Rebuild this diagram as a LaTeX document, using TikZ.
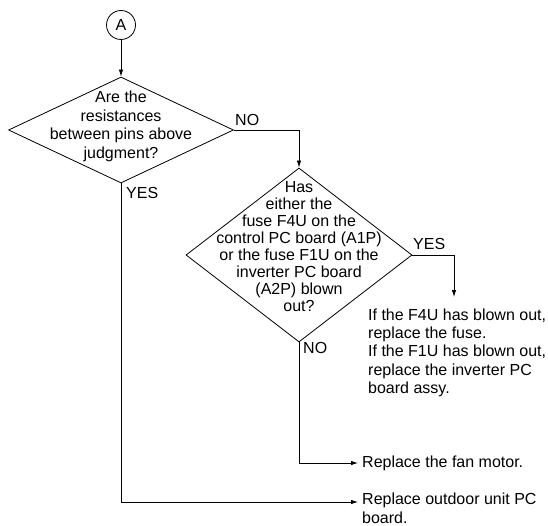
\documentclass[tikz,border=0pt]{standalone}
\usepackage{fontspec}
\setmainfont{Liberation Sans}
\usetikzlibrary{arrows.meta,positioning,shapes.geometric}
\tikzset{
  connector/.style={circle,draw,line width=0.8pt,minimum size=29pt,inner sep=0pt,
    font=\fontsize{16}{18}\selectfont},
  decision/.style={diamond,draw,line width=0.8pt,inner sep=0pt},
  qtext/.style={align=center,inner sep=0pt,font=\fontsize{16}{#1}\selectfont},
  qtext/.default=18.5,
  note/.style={align=left,inner sep=0pt,font=\fontsize{16}{18.3}\selectfont},
  tag/.style={inner sep=0pt,font=\fontsize{16}{18}\selectfont},
  arrow/.style={-{Latex[length=7pt,width=4.5pt]},line width=0.8pt},
  line/.style={line width=0.8pt}
}
\begin{document}
\begin{tikzpicture}[x=1pt,y=-1pt]
  \useasboundingbox (0,0) rectangle (548,526);
  \node[connector] (ca) at (121,25) {A};
  \node[decision,minimum width=225pt,minimum height=106pt] (q1) at (121,130) {};
  \node[qtext] (q1text) at (121,126.5) {Are the\\resistances\\between pins above\\judgment?};
  \node[decision,minimum width=226pt,minimum height=174pt] (q2) at (299,255) {};
  \node[qtext=17] (q2text) at (299,247) {Has\\either the\\fuse F4U on the\\control PC board (A1P)\\or the fuse F1U on the\\inverter PC board\\(A2P) blown\\out?};
  \node[note,anchor=north west] (fuseact) at (368,308.5) {If the F4U has blown out,\\replace the fuse.\\If the F1U has blown out,\\replace the inverter PC\\board assy.};
  \coordinate (fusein) at (454,297);
  \node[note,anchor=west,inner xsep=4pt] (fanact) at (358,463) {Replace the fan motor.};
  \coordinate (pcbin) at (358,502);
  \node[note,anchor=north west] (pcbact) at (362,493) {Replace outdoor unit PC\\board.};
  \node[tag,anchor=base west] (noq1) at (235,126) {NO};
  \node[tag,anchor=base west] (yesq1) at (126,199) {YES};
  \node[tag,anchor=base west] (yesq2) at (413,250) {YES};
  \node[tag,anchor=base west] (noq2) at (303,353) {NO};
  \draw[arrow] (ca) -- (q1.north);
  \draw[arrow] (q1.east) -| (q2.north);
  \draw[arrow] (q2.east) -| (fusein);
  \draw[arrow] (q2.south) |- (fanact.west);
  \draw[arrow] (q1.south) |- (pcbin);
\end{tikzpicture}
\end{document}
